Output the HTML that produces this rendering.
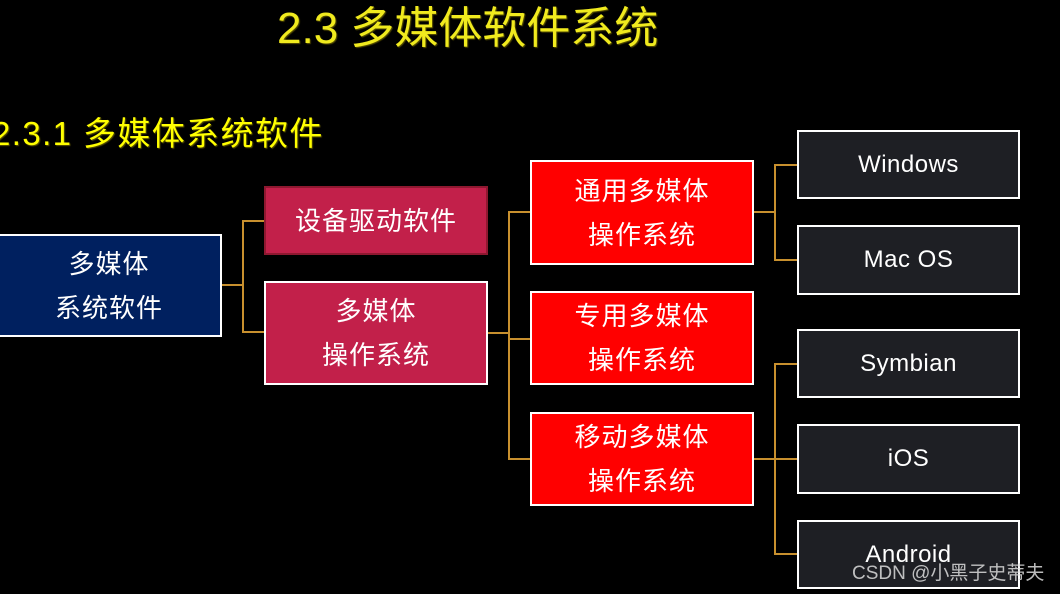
<!DOCTYPE html>
<html><head><meta charset="utf-8"><style>
body{margin:0;width:1060px;height:594px;background:#000;overflow:hidden;position:relative;font-family:"Liberation Sans","Noto Sans CJK SC",sans-serif}
.b{position:absolute;box-sizing:border-box;border:2px solid #fff;color:#fff;display:flex;align-items:center;justify-content:center;text-align:center;font-size:26px;line-height:44px;letter-spacing:1px}
.d{background:#1e1f24;font-size:24px;letter-spacing:0.5px}
.r{background:#ff0000}
.m{background:#c2204a}
.l{position:absolute;background:#c8902e}
.t{position:absolute;color:#f0ea1e;white-space:nowrap;text-shadow:1px 1px 1px #5a5200}
</style></head><body>
<div class="t" style="left:277px;top:2px;font-size:44px;line-height:54px;letter-spacing:0px">2.3 多媒体软件系统</div>
<div class="t" style="left:-8px;top:112px;font-size:33px;line-height:44px;color:#ffff00;letter-spacing:1.4px">2.3.1 多媒体系统软件</div>

<div class="b" style="left:-4px;top:234px;width:226px;height:103px;background:#00205f">多媒体<br>系统软件</div>
<div class="b m" style="left:264px;top:186px;width:224px;height:69px;border-color:#8e1830">设备驱动软件</div>
<div class="b m" style="left:264px;top:281px;width:224px;height:104px">多媒体<br>操作系统</div>
<div class="b r" style="left:530px;top:160px;width:224px;height:105px">通用多媒体<br>操作系统</div>
<div class="b r" style="left:530px;top:291px;width:224px;height:94px">专用多媒体<br>操作系统</div>
<div class="b r" style="left:530px;top:412px;width:224px;height:94px">移动多媒体<br>操作系统</div>
<div class="b d" style="left:797px;top:130px;width:223px;height:69px">Windows</div>
<div class="b d" style="left:797px;top:225px;width:223px;height:70px">Mac OS</div>
<div class="b d" style="left:797px;top:329px;width:223px;height:69px">Symbian</div>
<div class="b d" style="left:797px;top:424px;width:223px;height:70px">iOS</div>
<div class="b d" style="left:797px;top:520px;width:223px;height:69px">Android</div>

<div class="l" style="left:222px;top:284px;width:21px;height:2px"></div>
<div class="l" style="left:242px;top:220px;width:2px;height:113px"></div>
<div class="l" style="left:242px;top:220px;width:22px;height:2px"></div>
<div class="l" style="left:242px;top:331px;width:22px;height:2px"></div>

<div class="l" style="left:488px;top:332px;width:21px;height:2px"></div>
<div class="l" style="left:508px;top:211px;width:2px;height:249px"></div>
<div class="l" style="left:508px;top:211px;width:22px;height:2px"></div>
<div class="l" style="left:508px;top:338px;width:22px;height:2px"></div>
<div class="l" style="left:508px;top:458px;width:22px;height:2px"></div>

<div class="l" style="left:754px;top:211px;width:21px;height:2px"></div>
<div class="l" style="left:774px;top:164px;width:2px;height:97px"></div>
<div class="l" style="left:774px;top:164px;width:23px;height:2px"></div>
<div class="l" style="left:774px;top:259px;width:23px;height:2px"></div>

<div class="l" style="left:754px;top:458px;width:21px;height:2px"></div>
<div class="l" style="left:774px;top:363px;width:2px;height:191px"></div>
<div class="l" style="left:774px;top:363px;width:23px;height:2px"></div>
<div class="l" style="left:774px;top:458px;width:23px;height:2px"></div>
<div class="l" style="left:774px;top:553px;width:23px;height:2px"></div>

<div style="position:absolute;left:852px;top:561px;font-size:19px;line-height:26px;color:rgba(220,220,220,0.85);white-space:nowrap">CSDN @小黑子史蒂夫</div>
</body></html>
